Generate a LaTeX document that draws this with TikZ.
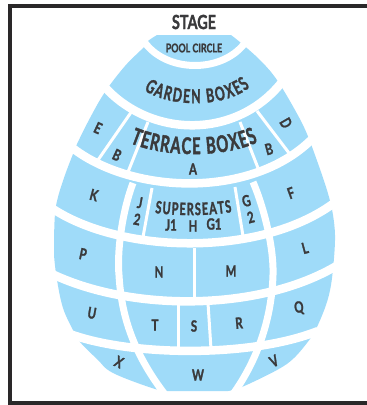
\documentclass[tikz,border=0pt]{standalone}
\usepackage{fontspec}
\setmainfont{Lato}[FakeStretch=0.74, BoldFeatures={FakeBold=1.4}]
\newfontfamily\curvefont{Lato}[FakeStretch=0.64, BoldFeatures={FakeBold=1.6}]
\usepackage{xcolor}
\usetikzlibrary{decorations.text}
\definecolor{seatblue}{HTML}{9FDBF9}
\definecolor{inkgray}{HTML}{3A3A3C}
\definecolor{framegray}{HTML}{2A2829}
\newcommand{\seatfont}{\fontsize{15.5}{17}\selectfont\bfseries}
\tikzset{
    seat/.style={font=\seatfont, text=inkgray, inner sep=0pt, align=center},
    gapwide/.style={draw=white, line width=8.5pt},
    gapmid/.style={draw=white, line width=7pt},
    gapthin/.style={draw=white, line width=3pt},
    curved/.style={decorate, decoration={text along path, text align={fit to path}, text color=inkgray}},
}
\begin{document}
\begin{tikzpicture}[x=1pt, y=-1pt]
    \useasboundingbox (0,0) rectangle (367,405);
    \draw[framegray, line width=4.4pt] (372,6) -- (9.8,6) -- (9.8,403) -- (372,403);

    % egg of seats, the gaps are white curves on top
    \fill[seatblue] (157,35) -- (231,35)
        -- plot[smooth, tension=.6] coordinates {(231,35) (241,43) (261,61) (277,80) (295,110) (307,134) (321,172) (329,197) (333,215) (335,235) (334,258) (331,285) (326,305) (317,327) (310,339) (294,358) (277,370) (242,387) (228,391)}
        -- (170,391)
        -- plot[smooth, tension=.6] coordinates {(170,391) (155,389) (113,373) (97,359) (80,342) (73,330) (63,308) (57,280) (54,255) (54,240) (55,214) (58,197) (65,175) (73,154) (77,144) (90,118) (105,92) (125,66) (144,47) (148,41) (157,35)}
        -- cycle;

    % rows
    \path[gapmid] (143,40) .. controls (165,74) and (225,74) .. (247,40);
    \path[gapwide] (102,84) .. controls (150,140) and (240,140) .. (285,78);
    \path[gapwide] (70,146) .. controls (130,195) and (255,200) .. (315,136);
    \path[gapwide] (50,207) .. controls (120,255) and (265,258) .. (338,200);
    \path[gapwide] (50,273) .. controls (130,312) and (260,312) .. (338,265);
    \path[gapwide] (70,334) .. controls (130,356) and (250,358) .. (318,331);

    % meridians
    \path[gapmid] (133,183) .. controls (121,215) and (117,255) .. (119,275)
        .. controls (121,310) and (130,350) .. (167,397);
    \path[gapmid] (253,182) .. controls (265,210) and (274,250) .. (273,275)
        .. controls (272,310) and (262,355) .. (231,397);

    % small dividers
    \path[gapthin] (132,111) -- (98,160);
    \path[gapthin] (148,122) -- (128,172);
    \path[gapthin] (240,122) -- (258,168);
    \path[gapthin] (257,111) -- (289,153);
    \path[gapthin] (152,188) -- (143,237);
    \path[gapthin] (235,187) -- (243,236);
    \path[gapthin] (194,248) -- (194,297);
    \path[gapthin] (178,303) -- (178,349);
    \path[gapthin] (208,303) -- (211,349);

    % labels
    \node[seat, font=\fontsize{19.5}{20}\selectfont\bfseries] (stage) at (194,22) {STAGE};
    \node[seat, font=\fontsize{12}{13}\selectfont\bfseries] (pool) at (194,48) {POOL CIRCLE};
    \path[curved, decoration={text={|\curvefont\fontsize{19}{20}\selectfont\bfseries|GARDEN BOXES}}]
        (144,90) .. controls (170,108) and (225,108) .. (250,87);
    \path[curved, decoration={text={|\curvefont\fontsize{23}{24}\selectfont\bfseries|TERRACE BOXES}}]
        (130,143) .. controls (165,158) and (225,158) .. (258,142);
    \path[curved, decoration={text={|\curvefont\fontsize{17}{18}\selectfont\bfseries|SUPERSEATS}}]
        (155,213) .. controls (178,216) and (210,216) .. (232,212);

    \node[seat] (secA) at (193,169) {A};
    \node[seat, rotate=-25] (secE) at (98,128) {E};
    \node[seat, rotate=-25] (secBl) at (117,155) {B};
    \node[seat, rotate=15] (secBr) at (269,149) {B};
    \node[seat, rotate=-60] (secD) at (286,123) {D};
    \node[seat, rotate=-15] (secK) at (94,195) {K};
    \node[seat, rotate=20] (secF) at (291,193) {F};
    \node[seat, rotate=-10] (secJ) at (138.5,211) {J\\2};
    \node[seat, rotate=15] (secG) at (248.5,209) {G\\2};
    \node[seat] (secJone) at (171,225) {J1};
    \node[seat] (secH) at (193,226) {H};
    \node[seat] (secGone) at (214,224) {G1};
    \node[seat, rotate=-12] (secP) at (83,254) {P};
    \node[seat, rotate=15] (secL) at (305,248) {L};
    \node[seat] (secN) at (159,272) {N};
    \node[seat] (secM) at (231,271) {M};
    \node[seat, rotate=-10] (secU) at (92,313) {U};
    \node[seat, rotate=8] (secQ) at (299,308) {Q};
    \node[seat] (secT) at (155,325) {T};
    \node[seat] (secS) at (194,326) {S};
    \node[seat, rotate=5] (secR) at (239,323) {R};
    \node[seat, rotate=-25] (secX) at (119,362) {X};
    \node[seat] (secW) at (198,375) {W};
    \node[seat, rotate=25] (secV) at (274,361) {V};
\end{tikzpicture}
\end{document}
